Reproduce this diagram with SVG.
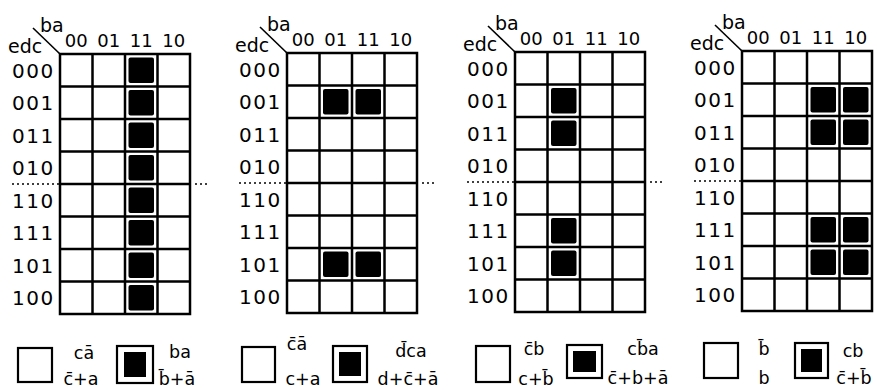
<svg xmlns="http://www.w3.org/2000/svg" width="877" height="390" viewBox="0 0 877 390">
<style>
text{font-family:"DejaVu Sans","Liberation Sans",sans-serif;fill:#000}
.ba{font-size:19px}
.hd{font-size:18px;text-anchor:middle}
.rl{font-size:20px;letter-spacing:1.5px}
.lg{font-size:17.5px;text-anchor:middle}
.grid{fill:none;stroke:#000;stroke-width:2.5}
.diag{stroke:#000;stroke-width:1.6}
.dot{stroke:#000;stroke-width:1.4;stroke-dasharray:2 3}
.on{fill:#000}
.box{fill:#fff;stroke:#000;stroke-width:2.2}
</style>
<defs>
<g id="grid">
<rect class="grid" x="0" y="0" width="130" height="260"/>
<path class="grid" d="M32.5 0V260M65 0V260M97.5 0V260M0 32.5H130M0 65H130M0 97.5H130M0 130H130M0 162.5H130M0 195H130M0 227.5H130"/>
</g>
<g id="labels">
<line class="diag" x1="-27" y1="-26" x2="0" y2="0"/>
<text class="ba" x="-20" y="-22">ba</text>
<text class="ba" x="-52" y="-1">edc</text>
<text class="hd" x="16.25" y="-7">00</text>
<text class="hd" x="48.75" y="-7">01</text>
<text class="hd" x="81.25" y="-7">11</text>
<text class="hd" x="113.75" y="-7">10</text>
<text class="rl" x="-48" y="23.5">000</text>
<text class="rl" x="-48" y="56">001</text>
<text class="rl" x="-48" y="88.5">011</text>
<text class="rl" x="-48" y="121">010</text>
<text class="rl" x="-48" y="153.5">110</text>
<text class="rl" x="-48" y="186">111</text>
<text class="rl" x="-48" y="218.5">101</text>
<text class="rl" x="-48" y="251">100</text>
<line class="dot" x1="-48" y1="130" x2="0" y2="130"/>
<line class="dot" x1="135" y1="130" x2="147" y2="130"/>
</g>
<rect id="cell" class="on" x="3.5" y="3.5" width="25.5" height="25.5" rx="2"/>
</defs>

<g id="map1" transform="translate(60,54)">
<use href="#labels"/>
<use href="#grid"/>
<use href="#cell" x="65" y="0"/>
<use href="#cell" x="65" y="32.5"/>
<use href="#cell" x="65" y="65"/>
<use href="#cell" x="65" y="97.5"/>
<use href="#cell" x="65" y="130"/>
<use href="#cell" x="65" y="162.5"/>
<use href="#cell" x="65" y="195"/>
<use href="#cell" x="65" y="227.5"/>
</g>

<g id="map2" transform="translate(287,53)">
<use href="#labels"/>
<use href="#grid"/>
<use href="#cell" x="32.5" y="32.5"/>
<use href="#cell" x="65" y="32.5"/>
<use href="#cell" x="32.5" y="195"/>
<use href="#cell" x="65" y="195"/>
</g>

<g id="map3" transform="translate(515,52)">
<use href="#labels"/>
<use href="#grid"/>
<use href="#cell" x="32.5" y="32.5"/>
<use href="#cell" x="32.5" y="65"/>
<use href="#cell" x="32.5" y="162.5"/>
<use href="#cell" x="32.5" y="195"/>
</g>

<g id="map4" transform="translate(742,51)">
<use href="#labels"/>
<use href="#grid"/>
<use href="#cell" x="65" y="32.5"/>
<use href="#cell" x="97.5" y="32.5"/>
<use href="#cell" x="65" y="65"/>
<use href="#cell" x="97.5" y="65"/>
<use href="#cell" x="65" y="162.5"/>
<use href="#cell" x="97.5" y="162.5"/>
<use href="#cell" x="65" y="195"/>
<use href="#cell" x="97.5" y="195"/>
</g>

<g id="legend1">
<rect class="box" x="18" y="348" width="34" height="34"/>
<text class="lg" x="84" y="359">cā</text>
<text class="lg" x="81" y="385">c̄+a</text>
<rect class="box" x="117" y="346" width="36" height="37"/>
<rect class="on" x="124" y="352" width="22" height="25"/>
<text class="lg" x="180" y="358">ba</text>
<text class="lg" x="177" y="385">b̄+ā</text>
</g>

<g id="legend2">
<rect class="box" x="242" y="347" width="33" height="35"/>
<text class="lg" x="297" y="350">c̄ā</text>
<text class="lg" x="303" y="385">c+a</text>
<rect class="box" x="333" y="346" width="34" height="36"/>
<rect class="on" x="339" y="352" width="22" height="24"/>
<text class="lg" x="411" y="357">d̄ca</text>
<text class="lg" x="408" y="385">d+c̄+ā</text>
</g>

<g id="legend3">
<rect class="box" x="476" y="346" width="34" height="36"/>
<text class="lg" x="534" y="355">c̄b</text>
<text class="lg" x="536" y="385">c+b̄</text>
<rect class="box" x="567" y="345" width="35" height="33"/>
<rect class="on" x="573" y="351" width="23" height="21"/>
<text class="lg" x="643" y="355">cb̄a</text>
<text class="lg" x="638" y="384">c̄+b+ā</text>
</g>

<g id="legend4">
<rect class="box" x="704" y="343" width="34" height="35"/>
<text class="lg" x="764" y="355">b̄</text>
<text class="lg" x="764" y="384">b</text>
<rect class="box" x="795" y="343" width="33" height="35"/>
<rect class="on" x="801" y="349" width="21" height="23"/>
<text class="lg" x="853" y="357">cb</text>
<text class="lg" x="854" y="384">c̄+b̄</text>
</g>
</svg>
